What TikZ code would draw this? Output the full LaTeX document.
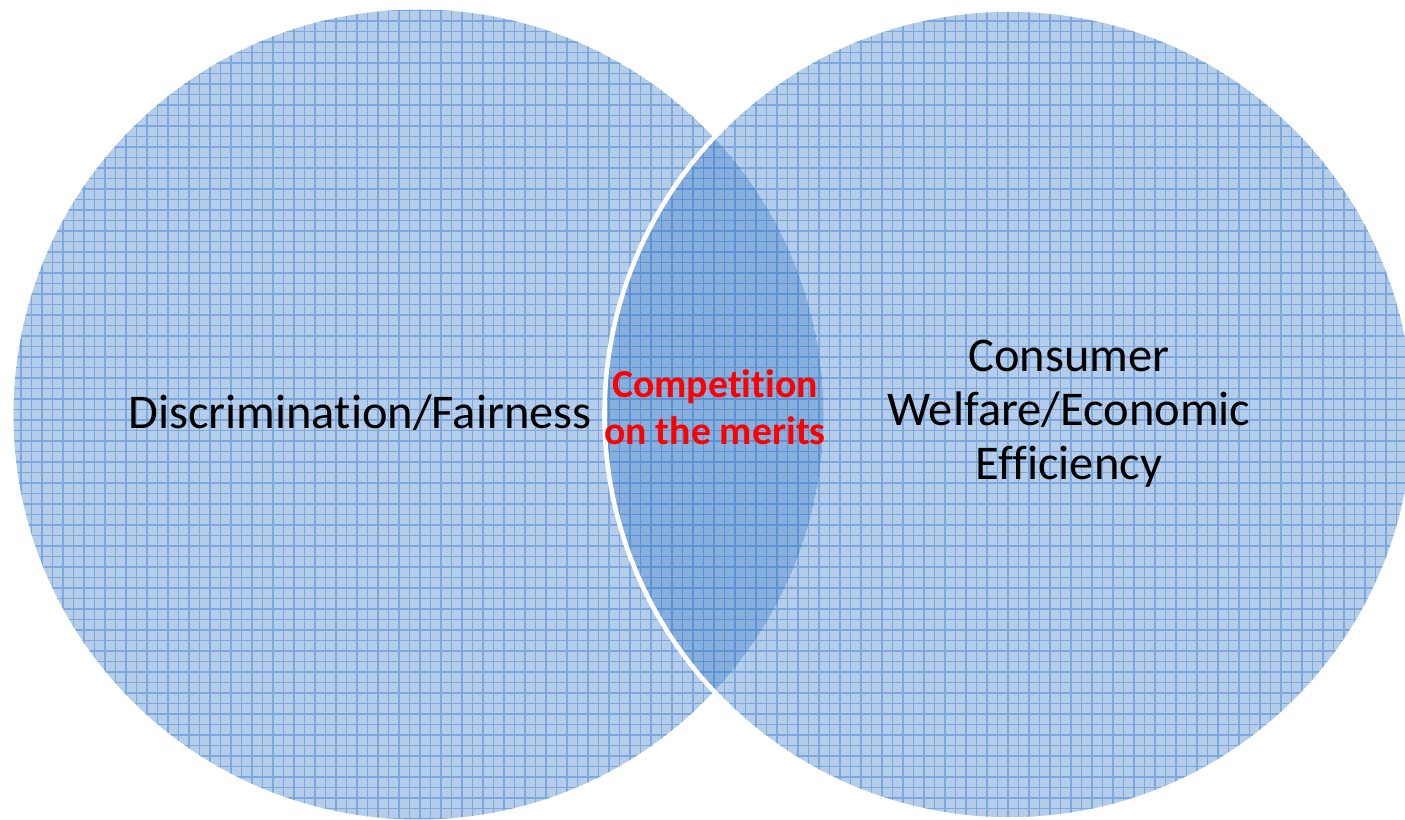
\documentclass[tikz,border=0pt]{standalone}
\usepackage{fontspec}
\setmainfont{Carlito}[Ligatures={NoCommon}]

\definecolor{vennblue}{RGB}{70,130,200}
\definecolor{gridblue}{RGB}{85,145,215}

\tikzset{
  venn/.style={fill=vennblue, fill opacity=0.4},
  paper/.style={draw=gridblue, line width=0.4pt, draw opacity=0.6, step=0.105},
  goal/.style={font=\fontsize{13.8}{15.4}\selectfont, align=center, text=black},
  overlap/.style={font=\fontsize{11.3}{13.4}\selectfont\bfseries, align=center, text=red}
}

\begin{document}
\begin{tikzpicture}
    \useasboundingbox (0,0) rectangle (14.05,8.19);

    % --- Circulo izquierdo ---
    \begin{scope}
        \clip (4.185,4.045) circle (4.05);
        \fill[venn] (4.185,4.045) circle (4.05);
        \draw[paper] (0,0) grid (14.05,8.19);
    \end{scope}

    % --- Circulo derecho (borde blanco encima) ---
    \begin{scope}
        \clip (10.095,4.045) circle (4.05);
        \fill[venn] (10.095,4.045) circle (4.05);
        \draw[paper] (0,0) grid (14.05,8.19);
    \end{scope}
    \draw[white, line width=1.3pt] (10.095,4.045) circle (4.05);

    % Etiquetas
    \node[goal] (fairness) at (3.60,4.06) {Discrimination/Fairness};
    \node[goal] (welfare) at (10.69,4.05) {Consumer\\Welfare/Economic\\Efficiency};
    \node[overlap] (merits) at (7.15,4.12) {Competition\\on the merits};
\end{tikzpicture}
\end{document}
